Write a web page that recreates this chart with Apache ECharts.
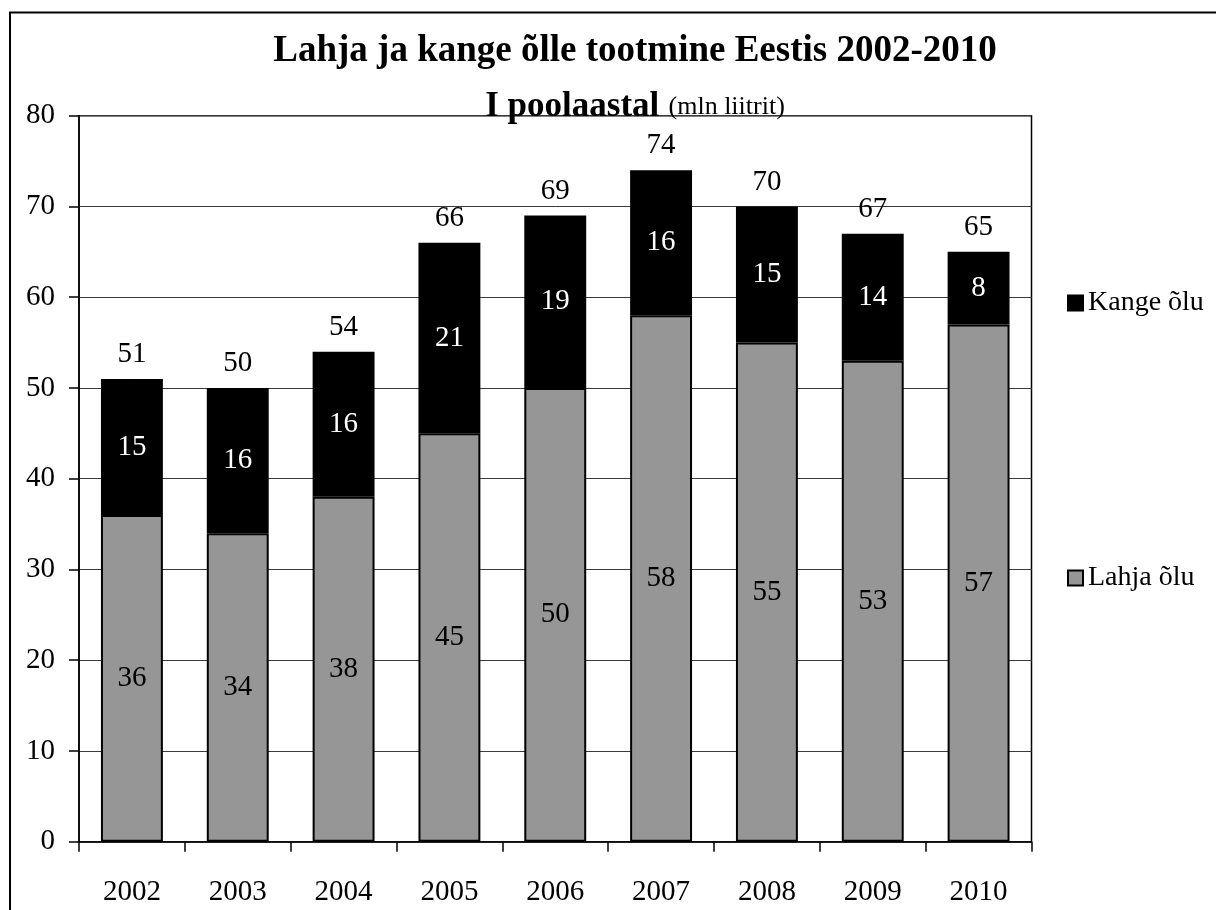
<!DOCTYPE html>
<html>
<head>
<meta charset="utf-8">
<script src="https://cdn.jsdelivr.net/npm/echarts@6/dist/echarts.min.js"></script>
<style>html,body{margin:0;padding:0;background:#fff}#c{width:1216px;height:910px}</style>
</head>
<body>
<div id="c"></div>
<script>
const years = ['2002','2003','2004','2005','2006','2007','2008','2009','2010'];
const lahja = [36,34,38,45,50,58,55,53,57];
const kange = [15,16,16,21,19,16,15,14,8];
const totals = [51,50,54,66,69,74,70,67,65];
const yTicks = [0,10,20,30,40,50,60,70,80];

const F = '"Liberation Serif","Times New Roman",serif';
const chart = echarts.init(document.getElementById('c'));
chart.setOption({
  animation: false,
  backgroundColor: '#fff',
  textStyle: {fontFamily: F},
  title: {
    text: 'Lahja ja kange õlle tootmine Eestis 2002-2010\n{b|I poolaastal} {s|(mln liitrit)}',
    left: 630, textAlign: 'center', top: 18,
    textStyle: {
      fontFamily: F, fontSize: 37, fontWeight: 'bold', color: '#000', lineHeight: 56,
      rich: {
        b: {fontFamily: F, fontSize: 35, fontWeight: 'bold', color: '#000', lineHeight: 56},
        s: {fontFamily: F, fontSize: 26, fontWeight: 'normal', color: '#000', lineHeight: 56}
      }
    }
  },
  graphic: [{
    type: 'rect', shape: {x: 10, y: 12.5, width: 1250, height: 950},
    style: {fill: 'none', stroke: '#000', lineWidth: 2}, silent: true
  }],
  legend: [{
    data: ['Kange õlu'], left: 1062, top: 284, orient: 'vertical', icon: 'rect',
    itemWidth: 15, itemHeight: 15, itemGap: 10,
    textStyle: {fontFamily: F, fontSize: 28, color: '#000'}
  }, {
    data: ['Lahja õlu'], left: 1062, top: 559, orient: 'vertical', icon: 'rect',
    itemWidth: 15, itemHeight: 15, itemGap: 10,
    textStyle: {fontFamily: F, fontSize: 28, color: '#000'}
  }],
  grid: {left: 79, right: 184.5, top: 115.7, bottom: 68.3, show: true, borderColor: '#000', borderWidth: 1.5, containLabel: false},
  xAxis: {
    type: 'category', data: years,
    axisLine: {lineStyle: {color: '#000', width: 1.5}},
    axisTick: {show: true, alignWithLabel: false, length: 10, lineStyle: {color: '#000', width: 1.5}},
    axisLabel: {fontFamily: F, fontSize: 29, color: '#000', margin: 36}
  },
  yAxis: {
    type: 'value', min: 0, max: 80, interval: 10,
    axisLine: {show: true, lineStyle: {color: '#000', width: 1.5}},
    axisTick: {show: true, length: 10, lineStyle: {color: '#000', width: 1.5}},
    splitLine: {lineStyle: {color: '#3a3a3a', width: 1}},
    axisLabel: {fontFamily: F, fontSize: 29, color: '#000', margin: 24,
      formatter: v => yTicks.includes(v) ? String(v) : ''}
  },
  series: [{
    name: 'Lahja õlu', type: 'bar', stack: 't', data: lahja, barWidth: '58.5%',
    itemStyle: {color: '#969696', borderColor: '#000', borderWidth: 2},
    label: {show: true, position: 'inside', fontFamily: F, fontSize: 29, color: '#000'}
  }, {
    name: 'Kange õlu', type: 'bar', stack: 't', data: kange, barWidth: '58.5%',
    itemStyle: {color: '#000', borderColor: '#000', borderWidth: 2},
    label: {show: true, position: 'inside', fontFamily: F, fontSize: 29, color: '#fff'}
  }, {
    name: 'Kokku', type: 'scatter', data: totals, symbolSize: 0.01,
    itemStyle: {color: '#000'}, z: 5, silent: true,
    label: {show: true, position: 'top', distance: 10, fontFamily: F, fontSize: 29, color: '#000', opacity: 1}
  }]
});
</script>
</body>
</html>
